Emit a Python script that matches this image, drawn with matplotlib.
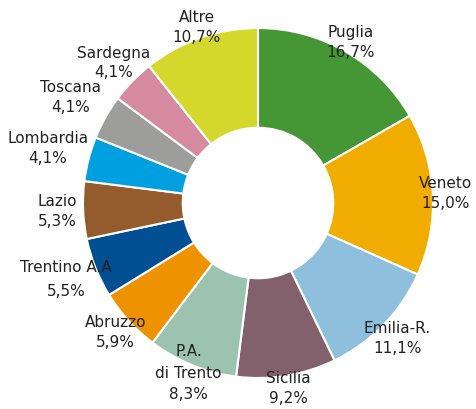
import matplotlib.pyplot as plt
import numpy as np

regions = ['Puglia', 'Veneto', 'Emilia-R.', 'Sicilia', 'P.A.\ndi Trento', 'Abruzzo',
           'Trentino A.A', 'Lazio', 'Lombardia', 'Toscana', 'Sardegna', 'Altre']
shares = [16.7, 15.0, 11.1, 9.2, 8.3, 5.9, 5.5, 5.3, 4.1, 4.1, 4.1, 10.7]
colors = ['#459634', '#F1AC00', '#8EC0DE', '#82606C', '#9CC3B0', '#EE9200',
          '#004F93', '#945B2C', '#00A0E0', '#9D9D9C', '#D68A9F', '#D5D82C']

# label distance from centre, in units of outer radius (layout only)
label_r = [1.06, 1.07, 1.11, 1.075, 1.05, 1.10, 1.18, 1.15, 1.24, 1.23, 1.15, 1.06]

W, H = 477, 409
cx, cy, R = 258, 203, 175  # pixel centre and radius

fig = plt.figure(figsize=(W / 100, H / 100), dpi=100)
ax = fig.add_axes([0, 0, 1, 1])

wedges, _ = ax.pie(shares, colors=colors, startangle=90, counterclock=False,
                   radius=1.0, wedgeprops=dict(width=0.57, edgecolor='white', linewidth=1.5))

for w, name, val, r in zip(wedges, regions, shares, label_r):
    ang = np.deg2rad((w.theta1 + w.theta2) / 2)
    txt = name + '\n' + ('%.1f%%' % val).replace('.', ',')
    ls = 1.4
    if name == 'Trentino A.A':
        ls = 1.7
    elif name.startswith('P.A.'):
        ls = 1.55
    ax.text(r * np.cos(ang), r * np.sin(ang), txt, ha='center', va='center',
            fontsize=11, color='#222222', linespacing=ls, family='DejaVu Sans')

ax.set_xlim(-cx / R, (W - cx) / R)
ax.set_ylim(-(H - cy) / R, cy / R)
ax.set_aspect('equal')
ax.axis('off')

fig.savefig('out.png', dpi=100)
